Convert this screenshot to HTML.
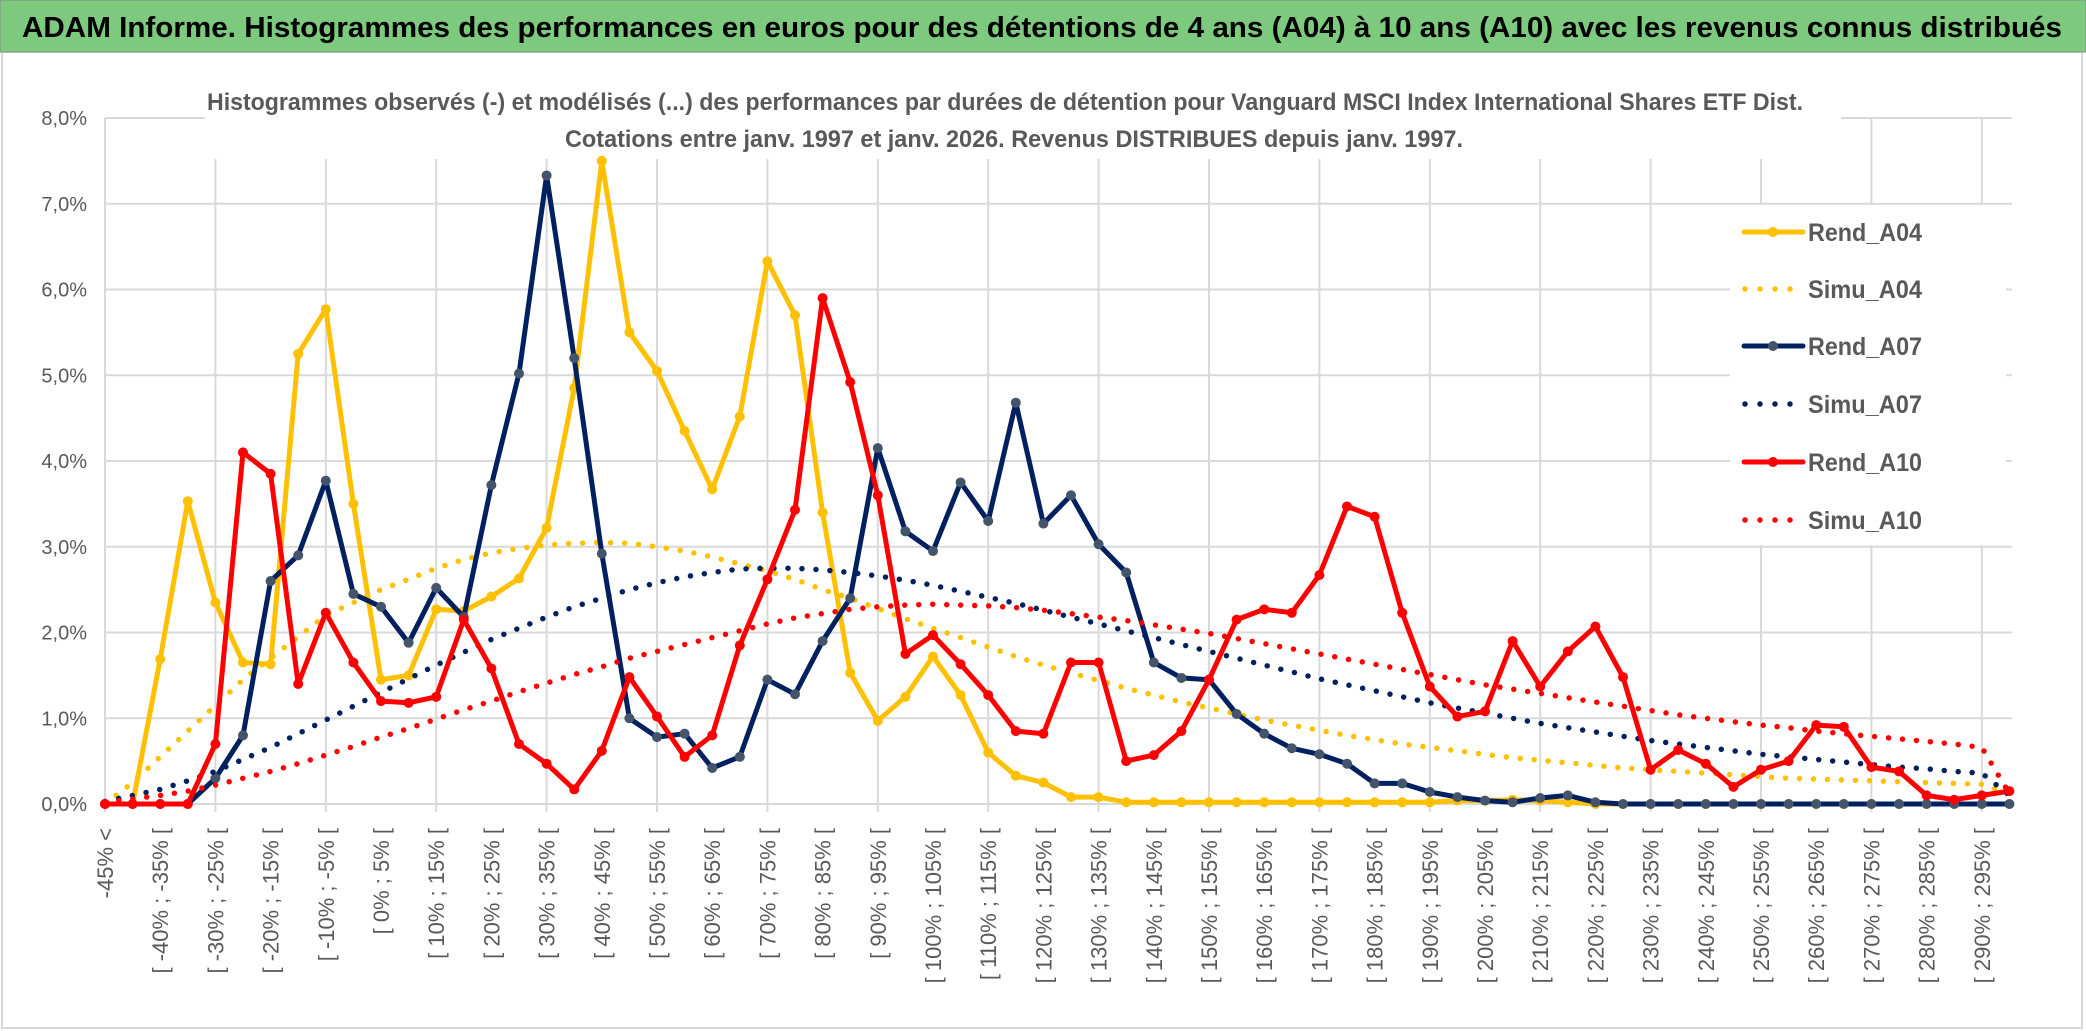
<!DOCTYPE html>
<html><head><meta charset="utf-8"><style>
html,body{margin:0;padding:0;background:#fff}
svg{display:block}
text{font-family:"Liberation Sans",sans-serif}
</style></head><body>
<svg id="chart" width="2086" height="1031" viewBox="0 0 2086 1031" xmlns="http://www.w3.org/2000/svg">
<rect x="0" y="0" width="2086" height="1031" fill="#fff"/>
<rect x="2" y="52" width="2080" height="976" fill="none" stroke="#d9d9d9" stroke-width="2"/>
<rect x="0" y="0" width="2086" height="52" fill="#7dc97e" stroke="#8a8a8a" stroke-width="1"/>
<text x="22" y="37" font-size="29" font-weight="bold" fill="#000" textLength="2040" lengthAdjust="spacingAndGlyphs">ADAM Informe. Histogrammes des performances en euros pour des détentions de 4 ans (A04) à 10 ans (A10) avec les revenus connus distribués</text>
<g id="grid"></g>
<rect x="205" y="80" width="1636" height="79" fill="#fff"/>
<text x="1005" y="110" font-size="24" font-weight="bold" fill="#595959" text-anchor="middle" textLength="1596" lengthAdjust="spacingAndGlyphs">Histogrammes observés (-) et modélisés (...) des performances par durées de détention pour Vanguard MSCI Index International Shares ETF Dist.</text>
<text x="1014" y="147" font-size="24" font-weight="bold" fill="#595959" text-anchor="middle" textLength="898" lengthAdjust="spacingAndGlyphs">Cotations entre janv. 1997 et janv. 2026. Revenus DISTRIBUES depuis janv. 1997.</text>
<g id="yaxis"></g>
<g id="xaxis"></g>
<g id="series"></g>
<rect x="1730" y="205" width="276" height="340" fill="#fff"/>
<g id="legend"></g>
</svg>
<script>
const yTicks = [0,1,2,3,4,5,6,7,8];
const yTickLabels = ["0,0%","1,0%","2,0%","3,0%","4,0%","5,0%","6,0%","7,0%","8,0%"];
const categories = ["-45% <"];
for (let a = -45; a <= 295; a += 5) categories.push("[ " + a + "% ; " + (a + 5) + "% [");

const rendA04 = [0,0,1.69,3.53,2.35,1.65,1.63,5.25,5.77,3.5,1.45,1.5,2.27,2.25,2.42,2.63,3.22,4.85,7.5,5.5,5.05,4.35,3.67,4.52,6.33,5.7,3.4,1.53,0.97,1.25,1.72,1.27,0.6,0.33,0.25,0.08,0.08,0.02,0.02,0.02,0.02,0.02,0.02,0.02,0.02,0.02,0.02,0.02,0.02,0.04,0.04,0.05,0.04,0.02,0,0,0,0,0,0,0,0,0,0,0,0,0,0,0,0];
const simuA04 = [0,0.25,0.55,0.85,1.15,1.45,1.7,1.95,2.2,2.35,2.5,2.62,2.75,2.85,2.93,2.98,3.02,3.04,3.05,3.04,3.0,2.95,2.88,2.8,2.72,2.62,2.5,2.4,2.28,2.16,2.05,1.94,1.83,1.72,1.62,1.53,1.44,1.35,1.27,1.19,1.12,1.05,0.98,0.92,0.86,0.8,0.75,0.7,0.66,0.62,0.58,0.54,0.51,0.48,0.45,0.42,0.4,0.38,0.36,0.34,0.32,0.3,0.29,0.28,0.27,0.26,0.25,0.24,0.23,0.12];
const rendA07 = [0,0,0,0,0.3,0.8,2.6,2.9,3.77,2.45,2.3,1.88,2.52,2.18,3.72,5.02,7.33,5.2,2.92,1.0,0.78,0.82,0.42,0.55,1.45,1.28,1.9,2.4,4.15,3.18,2.95,3.75,3.3,4.68,3.27,3.6,3.03,2.7,1.65,1.47,1.45,1.05,0.82,0.65,0.58,0.47,0.24,0.24,0.14,0.08,0.04,0.02,0.07,0.1,0.02,0,0,0,0,0,0,0,0,0,0,0,0,0,0,0];
const simuA07 = [0.03,0.1,0.17,0.27,0.38,0.52,0.66,0.82,0.98,1.14,1.3,1.46,1.62,1.77,1.92,2.05,2.18,2.3,2.4,2.5,2.58,2.65,2.7,2.74,2.75,2.75,2.73,2.7,2.66,2.61,2.55,2.48,2.41,2.34,2.26,2.18,2.1,2.02,1.94,1.86,1.78,1.7,1.62,1.54,1.46,1.39,1.32,1.25,1.18,1.12,1.06,1.0,0.94,0.89,0.84,0.79,0.74,0.7,0.66,0.62,0.58,0.55,0.52,0.49,0.46,0.43,0.41,0.38,0.36,0.1];
const rendA10 = [0,0,0,0,0.7,4.1,3.85,1.4,2.23,1.65,1.2,1.18,1.25,2.15,1.58,0.7,0.47,0.17,0.62,1.48,1.02,0.55,0.8,1.85,2.62,3.43,5.9,4.92,3.6,1.75,1.97,1.63,1.27,0.85,0.82,1.65,1.65,0.5,0.57,0.85,1.45,2.15,2.27,2.23,2.67,3.47,3.35,2.23,1.37,1.02,1.08,1.9,1.37,1.78,2.07,1.48,0.4,0.63,0.47,0.2,0.4,0.5,0.92,0.9,0.43,0.38,0.1,0.05,0.1,0.15];
const simuA10 = [0.02,0.06,0.1,0.15,0.22,0.3,0.38,0.47,0.57,0.67,0.78,0.88,0.99,1.1,1.2,1.31,1.41,1.51,1.6,1.7,1.78,1.86,1.94,2.02,2.1,2.17,2.22,2.27,2.3,2.32,2.33,2.32,2.31,2.29,2.26,2.22,2.18,2.14,2.09,2.04,1.99,1.93,1.87,1.81,1.75,1.69,1.63,1.57,1.51,1.45,1.39,1.34,1.29,1.24,1.19,1.14,1.09,1.04,1.0,0.96,0.92,0.89,0.85,0.82,0.79,0.76,0.73,0.7,0.66,0.12];

const NS = "http://www.w3.org/2000/svg";
const X0 = 105, DX = 27.6, Y0 = 804, DY = 85.75, XR = 2012;
function xs(i){ return X0 + i*DX; }
function ys(v){ return Y0 - v*DY; }
function mk(tag, parent){ const e = document.createElementNS(NS, tag); parent.appendChild(e); return e; }

const grid = document.getElementById('grid');
yTicks.forEach(function(t){
  const l = mk('line', grid);
  
  
  l.setAttribute('x1', X0); l.setAttribute('x2', XR);
  l.setAttribute('y1', ys(t)); l.setAttribute('y2', ys(t));
  l.setAttribute('stroke', '#d9d9d9'); l.setAttribute('stroke-width', '2');
});
for (let i = 0; i < categories.length; i += 4) {
  const l = mk('line', grid);
  
  
  l.setAttribute('x1', xs(i)); l.setAttribute('x2', xs(i));
  l.setAttribute('y1', ys(8)); l.setAttribute('y2', Y0 + 8);
  l.setAttribute('stroke', '#d9d9d9'); l.setAttribute('stroke-width', '2');
}

const yaxis = document.getElementById('yaxis');
yTicks.forEach(function(t, k){
  const tx = mk('text', yaxis);
  
  
  tx.setAttribute('x', 87); tx.setAttribute('y', ys(t) + 7);
  tx.setAttribute('text-anchor', 'end'); tx.setAttribute('font-size', '20');
  tx.setAttribute('fill', '#595959');
  tx.textContent = yTickLabels[k];
});

const xaxis = document.getElementById('xaxis');
categories.forEach(function(c, i){
  if (i % 2 !== 0) return;
  const tx = mk('text', xaxis);
  
  
  const x = xs(i) + 8, y = 828;
  tx.setAttribute('x', x); tx.setAttribute('y', y);
  tx.setAttribute('transform', 'rotate(-90 ' + x + ' ' + y + ')');
  tx.setAttribute('text-anchor', 'end'); tx.setAttribute('font-size', '22');
  tx.setAttribute('fill', '#595959');
  tx.textContent = c;
});

const seriesDefs = [
  {name:'Rend_A04', data:rendA04, color:'#ffc000', marker:'#ffc000', dotted:false},
  {name:'Simu_A04', data:simuA04, color:'#ffc000', dotted:true},
  {name:'Rend_A07', data:rendA07, color:'#002060', marker:'#44546a', dotted:false},
  {name:'Simu_A07', data:simuA07, color:'#002060', dotted:true},
  {name:'Rend_A10', data:rendA10, color:'#ff0000', marker:'#ff0000', dotted:false},
  {name:'Simu_A10', data:simuA10, color:'#ff0000', dotted:true}
];
const layer = document.getElementById('series');
seriesDefs.forEach(function(s){
  const g = mk('g', layer);
  
  
  const p = mk('polyline', g);
  
  
  p.setAttribute('points', s.data.map(function(v, i){ return xs(i).toFixed(1) + ',' + ys(v).toFixed(1); }).join(' '));
  p.setAttribute('fill', 'none'); p.setAttribute('stroke', s.color);
  p.setAttribute('stroke-linejoin', 'round');
  if (s.dotted) {
    p.setAttribute('stroke-width', '5.5');
    p.setAttribute('stroke-linecap', 'round');
    p.setAttribute('stroke-dasharray', '0 14');
  } else {
    p.setAttribute('stroke-width', '5');
    s.data.forEach(function(v, i){
      const c = mk('circle', g);
      
      
      c.setAttribute('cx', xs(i)); c.setAttribute('cy', ys(v)); c.setAttribute('r', '5');
      c.setAttribute('fill', s.marker);
    });
  }
});

const legend = document.getElementById('legend');
const legendY = [232, 289, 346, 404, 462, 520];
seriesDefs.forEach(function(s, k){
  const g = mk('g', legend);
  
  
  const y = legendY[k];
  const l = mk('line', g);
  
  
  l.setAttribute('x1', s.dotted ? 1745 : 1744); l.setAttribute('x2', s.dotted ? 1795 : 1803);
  l.setAttribute('y1', y); l.setAttribute('y2', y);
  l.setAttribute('stroke', s.color);
  if (s.dotted) {
    l.setAttribute('stroke-width', '5.5'); l.setAttribute('stroke-linecap', 'round');
    l.setAttribute('stroke-dasharray', '0 15');
  } else {
    l.setAttribute('stroke-width', '5'); l.setAttribute('stroke-linecap', 'round');
    const c = mk('circle', g);
    
    
    c.setAttribute('cx', 1773); c.setAttribute('cy', y); c.setAttribute('r', '5');
    c.setAttribute('fill', s.marker);
  }
  const t = mk('text', g);
  
  
  t.setAttribute('x', 1808); t.setAttribute('y', y + 9);
  t.setAttribute('font-size', '25'); t.setAttribute('font-weight', 'bold');
  t.setAttribute('fill', '#595959');
  t.setAttribute('textLength', '114'); t.setAttribute('lengthAdjust', 'spacingAndGlyphs');
  t.textContent = s.name;
});
</script>
</body></html>
